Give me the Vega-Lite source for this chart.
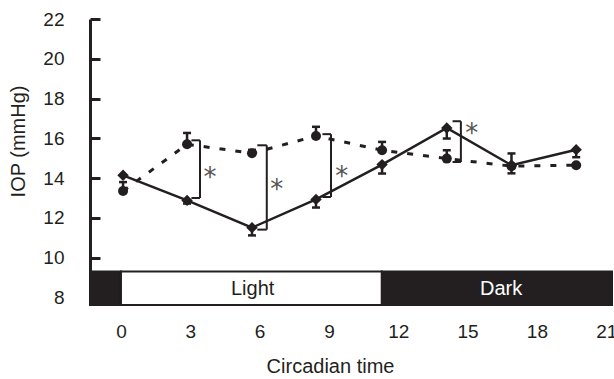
{
  "$schema": "https://vega.github.io/schema/vega-lite/v6.json",
  "width": 522,
  "height": 286,
  "autosize": {"type": "none"},
  "padding": {"left": 90, "top": 19, "right": 2, "bottom": 74},
  "background": "white",
  "config": {
    "view": {"stroke": null},
    "font": "Liberation Sans",
    "axis": {"grid": false, "labelColor": "#231f20", "titleColor": "#231f20", "titleFontWeight": "normal"}
  },
  "datasets": {
    "pts": [
      {"t": 0.09, "series": "S1", "iop": 14.14, "ebar": null},
      {"t": 2.86, "series": "S1", "iop": 12.88, "ebar": 12.72},
      {"t": 5.67, "series": "S1", "iop": 11.51, "ebar": 11.12},
      {"t": 8.44, "series": "S1", "iop": 12.93, "ebar": 12.52},
      {"t": 11.3, "series": "S1", "iop": 14.68, "ebar": 14.23},
      {"t": 14.1, "series": "S1", "iop": 16.52, "ebar": 15.99},
      {"t": 16.9, "series": "S1", "iop": 14.65, "ebar": 14.24},
      {"t": 19.7, "series": "S1", "iop": 15.43, "ebar": 15.05},
      {"t": 0.09, "series": "S2", "iop": 13.35, "ebar": 13.8},
      {"t": 2.86, "series": "S2", "iop": 15.7, "ebar": 16.27},
      {"t": 5.67, "series": "S2", "iop": 15.25, "ebar": 15.42},
      {"t": 8.44, "series": "S2", "iop": 16.12, "ebar": 16.58},
      {"t": 11.3, "series": "S2", "iop": 15.4, "ebar": 15.82},
      {"t": 14.1, "series": "S2", "iop": 14.98, "ebar": 15.4},
      {"t": 16.9, "series": "S2", "iop": 14.6, "ebar": 15.24},
      {"t": 19.7, "series": "S2", "iop": 14.65, "ebar": null}
    ],
    "brackets": [
      {"xl": 3.05, "xr": 3.42, "top": 15.9, "bottom": 13.0, "sx": 3.85, "sy": 14.24},
      {"xl": 5.9, "xr": 6.31, "top": 15.65, "bottom": 11.41, "sx": 6.74, "sy": 13.64},
      {"xl": 8.72, "xr": 9.09, "top": 16.21, "bottom": 13.05, "sx": 9.55, "sy": 14.31},
      {"xl": 14.35, "xr": 14.71, "top": 16.86, "bottom": 14.81, "sx": 15.18, "sy": 16.49}
    ],
    "phases": [
      {"phase": "dark", "start": -1.34, "end": 0},
      {"phase": "light", "start": 0, "end": 11.29},
      {"phase": "dark", "start": 11.29, "end": 21.25}
    ],
    "phaseLabels": [
      {"phase": "light", "label": "Light", "lx": 5.7},
      {"phase": "dark", "label": "Dark", "lx": 16.45}
    ]
  },
  "layer": [
    {
      "data": {"name": "phases"},
      "mark": {"type": "rect", "stroke": "#231f20", "strokeWidth": 2},
      "encoding": {
        "x": {"field": "start", "type": "quantitative",
              "scale": {"domain": [-1.34, 21.25], "nice": false, "zero": false},
              "axis": {"values": [0, 3, 6, 9, 12, 15, 18, 21], "domain": false, "ticks": false,
                       "labelFontSize": 19, "labelPadding": 17, "title": "Circadian time",
                       "titleFontSize": 20, "titleX": 240, "titleY": 67, "titleBaseline": "alphabetic", "titleAlign": "center"}},
        "x2": {"field": "end"},
        "y": {"datum": 7.62, "type": "quantitative",
              "scale": {"domain": [7.62, 22], "nice": false, "zero": false},
              "axis": {"values": [8, 10, 12, 14, 16, 18, 20, 22], "domain": true, "domainWidth": 3, "domainColor": "#231f20",
                       "tickSize": -10, "tickWidth": 3, "tickColor": "#231f20",
                       "labelFontSize": 19, "labelPadding": 36, "title": "IOP (mmHg)",
                       "titleFontSize": 20, "titleAngle": -90, "titleX": -66, "titleY": 122,
                       "titleAlign": "center", "titleBaseline": "alphabetic"}},
        "y2": {"datum": 9.3},
        "fill": {"field": "phase", "type": "nominal",
                 "scale": {"domain": ["dark", "light"], "range": ["#231f20", "#ffffff"]}, "legend": null}
      }
    },
    {
      "data": {"name": "phaseLabels"},
      "mark": {"type": "text", "fontSize": 20, "baseline": "middle", "align": "center"},
      "encoding": {
        "x": {"field": "lx", "type": "quantitative"},
        "y": {"datum": 8.42, "type": "quantitative"},
        "text": {"field": "label"},
        "color": {"condition": {"test": "datum.phase === 'dark'", "value": "#ffffff"}, "value": "#231f20"}
      }
    },
    {
      "data": {"name": "pts"},
      "transform": [{"filter": "isValid(datum.ebar)"}],
      "mark": {"type": "rule", "color": "#231f20", "strokeWidth": 2.5},
      "encoding": {
        "x": {"field": "t", "type": "quantitative"},
        "y": {"field": "iop", "type": "quantitative"},
        "y2": {"field": "ebar"}
      }
    },
    {
      "data": {"name": "pts"},
      "transform": [{"filter": "isValid(datum.ebar)"}],
      "mark": {"type": "tick", "orient": "horizontal", "color": "#231f20", "size": 8, "thickness": 2.5, "opacity": 1},
      "encoding": {
        "x": {"field": "t", "type": "quantitative"},
        "y": {"field": "ebar", "type": "quantitative"}
      }
    },
    {
      "data": {"name": "pts"},
      "transform": [{"filter": "datum.series === 'S2'"}],
      "mark": {"type": "line", "color": "#231f20", "strokeWidth": 3, "strokeDash": [6, 10]},
      "encoding": {
        "x": {"field": "t", "type": "quantitative"},
        "y": {"field": "iop", "type": "quantitative"}
      }
    },
    {
      "data": {"name": "pts"},
      "transform": [{"filter": "datum.series === 'S1'"}],
      "mark": {"type": "line", "color": "#231f20", "strokeWidth": 2.5},
      "encoding": {
        "x": {"field": "t", "type": "quantitative"},
        "y": {"field": "iop", "type": "quantitative"}
      }
    },
    {
      "data": {"name": "pts"},
      "transform": [{"filter": "datum.series === 'S2'"}],
      "mark": {"type": "point", "shape": "circle", "filled": true, "color": "#231f20", "size": 100, "opacity": 1},
      "encoding": {
        "x": {"field": "t", "type": "quantitative"},
        "y": {"field": "iop", "type": "quantitative"}
      }
    },
    {
      "data": {"name": "pts"},
      "transform": [{"filter": "datum.series === 'S1'"}],
      "mark": {"type": "point", "shape": "diamond", "filled": true, "color": "#231f20", "size": 130, "opacity": 1},
      "encoding": {
        "x": {"field": "t", "type": "quantitative"},
        "y": {"field": "iop", "type": "quantitative"}
      }
    },
    {
      "data": {"name": "brackets"},
      "mark": {"type": "rule", "color": "#231f20", "strokeWidth": 2},
      "encoding": {
        "x": {"field": "xr", "type": "quantitative"},
        "y": {"field": "top", "type": "quantitative"},
        "y2": {"field": "bottom"}
      }
    },
    {
      "data": {"name": "brackets"},
      "mark": {"type": "rule", "color": "#231f20", "strokeWidth": 2},
      "encoding": {
        "x": {"field": "xl", "type": "quantitative"},
        "x2": {"field": "xr"},
        "y": {"field": "top", "type": "quantitative"}
      }
    },
    {
      "data": {"name": "brackets"},
      "mark": {"type": "rule", "color": "#231f20", "strokeWidth": 2},
      "encoding": {
        "x": {"field": "xl", "type": "quantitative"},
        "x2": {"field": "xr"},
        "y": {"field": "bottom", "type": "quantitative"}
      }
    },
    {
      "data": {"name": "brackets"},
      "mark": {"type": "text", "text": "*", "font": "DejaVu Sans", "fontSize": 26, "color": "#555555", "align": "center", "baseline": "middle", "dy": 5},
      "encoding": {
        "x": {"field": "sx", "type": "quantitative"},
        "y": {"field": "sy", "type": "quantitative"}
      }
    }
  ]
}
